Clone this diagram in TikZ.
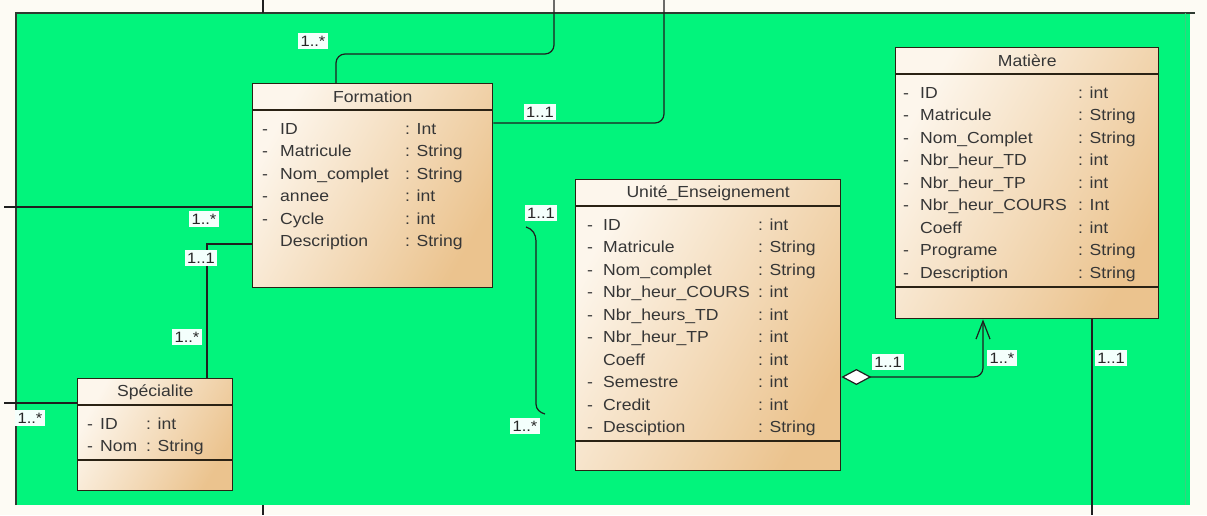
\documentclass[tikz,border=0pt]{standalone}
\usepackage{fontspec}
\setmainfont{Liberation Sans}[FakeStretch=1.1]
\usetikzlibrary{arrows.meta,calc}
\definecolor{bggreen}{HTML}{02F47C}
\definecolor{paper}{HTML}{FDFBF4}
\definecolor{boxlight}{HTML}{FDF6EC}
\definecolor{boxdark}{HTML}{EBC38E}
\definecolor{ink}{HTML}{363636}
\definecolor{edge}{HTML}{2A2214}
\definecolor{labelbg}{HTML}{F4FFFC}
\definecolor{framecol}{HTML}{2E3A30}
\definecolor{rightedge}{HTML}{3ACF7E}
\tikzset{
  classbox/.style={draw=edge, line width=1.4pt, inner sep=0pt, anchor=north west,
    top color=boxlight, bottom color=boxdark, shading angle=60},
  divider/.style={draw=edge, line width=1.2pt},
  attr/.style={anchor=base west, inner sep=0pt, text=ink, font=\fontsize{16}{18}\selectfont},
  ctitle/.style={anchor=center, inner sep=0pt, text=ink, font=\fontsize{16}{18}\selectfont},
  mult/.style={fill=labelbg, inner sep=2.5pt, text=black!85, font=\fontsize{15}{16}\selectfont},
  conn/.style={draw=black!88, line width=1.2pt},
}
\newcommand{\attrs}[5]{%
  \foreach \d/\n/\t [count=\i] in {#5} {
    \if y\d \node[attr] (#1-d\i) at ($(#1.north west)+(#2,{45+22.5*(\i-1)+6})$) {-};\fi
    \node[attr] (#1-n\i) at ($(#1.north west)+(#3,{45+22.5*(\i-1)+6})$) {\n};
    \node[attr] (#1-t\i) at ($(#1.north west)+(#4,{45+22.5*(\i-1)+6})$) {\t};
  }%
}
\newcommand{\umlclass}[6]{% name, x, y, width, height, title
  \node[classbox, minimum width=#4pt, minimum height=#5pt] (#1) at (#2,#3) {};
  \draw[divider] ($(#1.north west)+(0,27)$) -- ($(#1.north east)+(0,27)$);
  \node[ctitle] (#1-title) at ($(#1.north)+(0,14)$) {#6};
}
\begin{document}
\begin{tikzpicture}[x=1pt,y=-1pt]
\useasboundingbox (0,0) rectangle (1207,515);
\fill[paper] (0,0) rectangle (1207,515);
\fill[bggreen] (16,13) rectangle (1190,505);
\draw[framecol, line width=1.5pt] (16,505) -- (16,13) -- (1195,13);
\draw[rightedge, line width=1pt] (1185,13) -- (1185,505);

% free ends
\coordinate (topA) at (554,0);
\coordinate (topB) at (664,0);
\coordinate (leftA) at (4,207);
\coordinate (leftB) at (4,403);
\coordinate (botM) at (1092,515);
\coordinate (v1a) at (263,0);
\coordinate (v1b) at (263,13);
\coordinate (v2a) at (263,505);
\coordinate (v2b) at (263,515);
\coordinate (loose1) at (526,227);
\coordinate (loose2) at (545,414);

% classes
\umlclass{formation}{252}{83}{240}{204}{Formation}
\attrs{formation}{10}{28}{153}{y/ID/: Int, y/Matricule/: String, y/Nom\_complet/: String, y/annee/: int, y/Cycle/: int, n/Description/: String}

\umlclass{matiere}{895}{47}{263}{271}{Matière}
\draw[divider] ($(matiere.north west)+(0,240)$) -- ($(matiere.north east)+(0,240)$);
\attrs{matiere}{8}{25}{183}{y/ID/: int, y/Matricule/: String, y/Nom\_Complet/: String, y/Nbr\_heur\_TD/: int, y/Nbr\_heur\_TP/: int, y/Nbr\_heur\_COURS/: Int, n/Coeff/: int, y/Programe/: String, y/Description/: String}

\umlclass{unite}{575}{179}{265}{291}{Unité\_Enseignement}
\draw[divider] ($(unite.north west)+(0,262)$) -- ($(unite.north east)+(0,262)$);
\attrs{unite}{12}{28}{183}{y/ID/: int, y/Matricule/: String, y/Nom\_complet/: String, y/Nbr\_heur\_COURS/: int, y/Nbr\_heurs\_TD/: int, y/Nbr\_heur\_TP/: int, n/Coeff/: int, y/Semestre/: int, y/Credit/: int, y/Desciption/: String}

\umlclass{specialite}{77}{378}{155}{112}{Spécialite}
\draw[divider] ($(specialite.north west)+(0,82)$) -- ($(specialite.north east)+(0,82)$);
\attrs{specialite}{10}{23}{69}{y/ID/: int, y/Nom/: String}

% connectors
\draw[conn, rounded corners=9pt] ($(formation.north west)+(84,0)$) |- ($(topA)+(0,54)$) -- (topA);
\draw[conn, rounded corners=9pt] ($(formation.north east)+(0,40)$) -| (topB);
\draw[conn] ($(formation.north west)+(0,124)$) -- (leftA);
\draw[conn] ($(formation.north west)+(0,161)$) -| ($(specialite.north west)+(130,0)$);
\draw[conn] ($(specialite.north west)+(0,25)$) -- (leftB);
\draw[conn] (v1a) -- (v1b);
\draw[conn] (v2a) -- (v2b);
\draw[conn] ($(matiere.south west)+(197,0)$) -- (botM);
\draw[conn, rounded corners=9pt, {Diamond[fill=white, length=30pt, width=16pt]}-{Straight Barb[length=18pt, width=14pt]}]
  ($(unite.north east)+(0,198)$) -| ($(matiere.south west)+(88,0)$);
\draw[conn] (loose1) to[out=-15, in=90] (536,241) -- (536,404) to[out=-90, in=165] (loose2);

% multiplicities
\node[mult] (m1) at (313,41) {1..*};
\node[mult] (m2) at (540,112) {1..1};
\node[mult] (m3) at (204,219) {1..*};
\node[mult] (m4) at (201,258) {1..1};
\node[mult] (m5) at (187,337) {1..*};
\node[mult] (m6) at (30,418) {1..*};
\node[mult] (m7) at (541,213) {1..1};
\node[mult] (m8) at (525,426) {1..*};
\node[mult] (m9) at (888,362) {1..1};
\node[mult] (m10) at (1002,358) {1..*};
\node[mult] (m11) at (1111,358) {1..1};
\end{tikzpicture}
\end{document}
